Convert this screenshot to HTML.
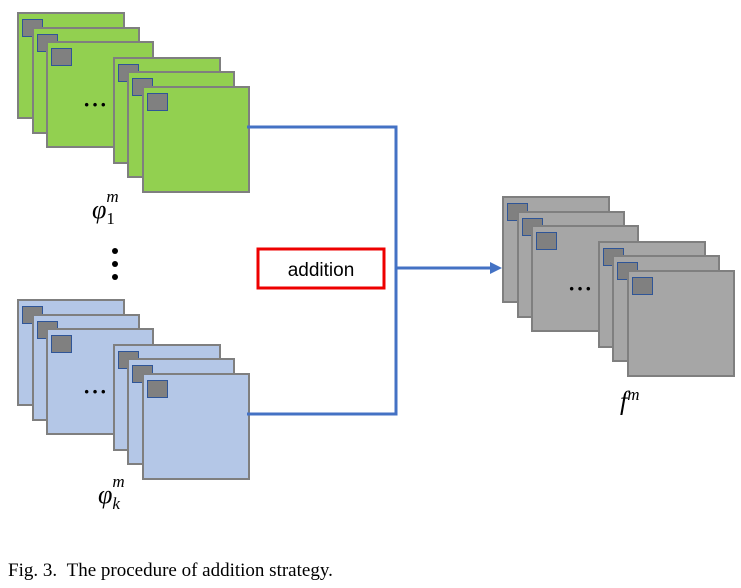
<!DOCTYPE html>
<html><head><style>
body{margin:0;background:#fff;width:741px;height:588px;position:relative;overflow:hidden;font-family:"Liberation Serif",serif}
.c{position:absolute;width:104px;height:103px;border:2px solid #7f7f7f;box-sizing:content-box}
.g{background:#92d050}.b{background:#b4c7e7}.y{background:#a6a6a6}
.s{position:absolute;left:3px;top:5px;width:19px;height:16px;background:#808080;border:1px solid #2f5597}
.d{position:absolute;font-size:22px;font-weight:bold;letter-spacing:1px;line-height:1}
.lab{position:absolute;font-style:italic;font-size:26px}
.lab sup,.lab sub{font-size:17px}
</style></head><body>
<div id="green"></div>
<svg width="741" height="588" style="position:absolute;left:0;top:0">
<polyline points="247,127 396,127 396,414 247,414" fill="none" stroke="#4472c4" stroke-width="3"/>
<line x1="396" y1="268" x2="492" y2="268" stroke="#4472c4" stroke-width="3"/>
<polygon points="490,262 502,268 490,274" fill="#4472c4"/>
<rect x="258" y="249" width="126" height="39" fill="#fff" stroke="#e00" stroke-width="3"/>
<text x="321" y="276" text-anchor="middle" font-family="Liberation Sans, sans-serif" font-size="19">addition</text>
<circle cx="115" cy="251" r="3"/><circle cx="115" cy="264" r="3"/><circle cx="115" cy="277" r="3"/>
</svg>
<script>
var offs=[[0,0],[15,15],[29,29],[96,45],[110,59],[125,74]];
function stack(x,y,cls){var h='';offs.forEach(function(o,i){h+='<div class="c '+cls+'" style="left:'+(x+o[0])+'px;top:'+(y+o[1])+'px"><div class="s"></div></div>';});
h+='<div class="d" style="left:'+(x+66)+'px;top:'+(y+82)+'px">···</div>';return h;}
document.getElementById('green').innerHTML=stack(17,12,'g')+stack(17,299,'b')+stack(502,196,'y');
</script>
<div class="lab" style="left:92px;top:195px">φ<span style="position:relative"><sup style="position:absolute;left:0;top:-8px">m</sup><sub style="position:absolute;left:0;top:14px;font-style:normal">1</sub></span></div>
<div class="lab" style="left:98px;top:480px">φ<span style="position:relative"><sup style="position:absolute;left:0;top:-8px">m</sup><sub style="position:absolute;left:0;top:14px">k</sub></span></div>
<div class="lab" style="left:620px;top:385px">f<sup>m</sup></div>
<div style="position:absolute;left:8px;top:560px;font-size:19px">Fig. 3.&nbsp;&nbsp;The procedure of addition strategy.</div>
</body></html>
